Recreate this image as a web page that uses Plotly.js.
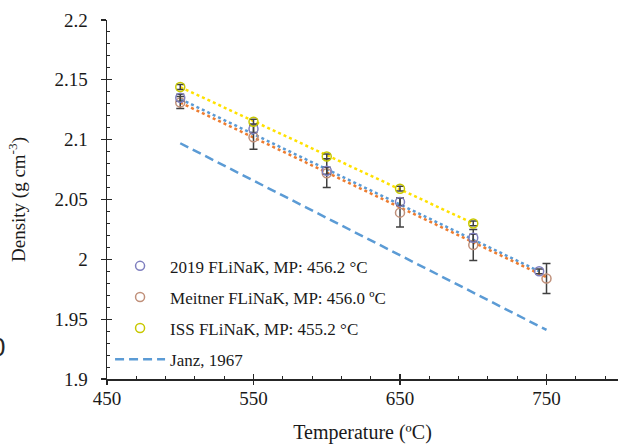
<!DOCTYPE html>
<html>
<head>
<meta charset="utf-8">
<script src="https://cdn.plot.ly/plotly-3.0.1.min.js"></script>
<style>html,body{margin:0;padding:0;background:#fff;}#chart{width:618px;height:444px;}</style>
</head>
<body>
<div id="chart"></div>
<script>
// Data
const temps2019 = [500, 550, 600, 650, 700, 745];
const dens2019 = [2.135, 2.109, 2.074, 2.048, 2.018, 1.990];
const err2019 = [0.003, 0.003, 0.003, 0.003, 0.003, 0.002];

const tempsMeitner = [500, 550, 600, 650, 700, 750];
const densMeitner = [2.131, 2.102, 2.072, 2.039, 2.012, 1.984];
const errMeitner = [0.005, 0.010, 0.012, 0.012, 0.013, 0.0125];

const tempsISS = [500, 550, 600, 650, 700];
const densISS = [2.144, 2.115, 2.086, 2.059, 2.030];
const errISS = [0.002, 0.002, 0.002, 0.002, 0.002];

// Trend lines (end points)
const trend2019T = [500, 745];
const trend2019D = [2.134, 1.990];
const trendMeitnerT = [500, 750];
const trendMeitnerD = [2.131, 1.985];
const trendISST = [500, 700];
const trendISSD = [2.144, 2.030];

// Janz, 1967
const janzT = [500, 750];
const janzD = [2.097, 1.941];

// Tick labels
const xTicks = [450, 550, 650, 750];
const xTickText = ['450', '550', '650', '750'];
const yTicks = [1.9, 1.95, 2, 2.05, 2.1, 2.15, 2.2];
const yTickText = ['1.9', '1.95', '2', '2.05', '2.1', '2.15', '2.2'];

const names = ["2019 FLiNaK, MP: 456.2 \u00B0C", "Meitner FLiNaK, MP: 456.0 \u00BAC", "ISS FLiNaK, MP: 455.2 \u00B0C", "Janz, 1967"];

const errStyle = (arr) => ({type: 'data', array: arr, visible: true, color: '#404040', thickness: 1.5, width: 4});

const traces = [
  {x: trend2019T, y: trend2019D, mode: 'lines', line: {color: '#5B9BD5', width: 2.5, dash: 'dot'}, showlegend: false, hoverinfo: 'skip'},
  {x: trendMeitnerT, y: trendMeitnerD, mode: 'lines', line: {color: '#ED7D31', width: 2.5, dash: 'dot'}, showlegend: false, hoverinfo: 'skip'},
  {x: trendISST, y: trendISSD, mode: 'lines', line: {color: '#FFE100', width: 2.5, dash: 'dot'}, showlegend: false, hoverinfo: 'skip'},
  {x: janzT, y: janzD, mode: 'lines', name: names[3], legendgroup: 'd', legendrank: 4, line: {color: '#5B9BD5', width: 2.5, dash: '9px,5px'}},
  {x: tempsMeitner, y: densMeitner, mode: 'markers', name: names[1], legendgroup: 'b', legendrank: 2, error_y: errStyle(errMeitner),
   marker: {symbol: 'circle-open', size: 9, color: '#C0907A', line: {width: 1.5}}},
  {x: temps2019, y: dens2019, mode: 'markers', name: names[0], legendgroup: 'a', legendrank: 1, error_y: errStyle(err2019),
   marker: {symbol: 'circle-open', size: 9, color: '#7F7FBF', line: {width: 1.5}}},
  {x: tempsISS, y: densISS, mode: 'markers', name: names[2], legendgroup: 'c', legendrank: 3, error_y: errStyle(errISS),
   marker: {symbol: 'circle-open', size: 9, color: '#C8C800', line: {width: 1.5}}},
  {x: [450], y: [1.9], xaxis: 'x2', yaxis: 'y2', mode: 'markers', marker: {opacity: 0}, showlegend: false, hoverinfo: 'skip'}
];

const fam = '"Liberation Serif", "Times New Roman", serif';
const txt = '#1a1a1a';
const xr = [450, 798.8];
const yr = [1.9, 2.2];
const tc = '#262626';

const layout = {
  width: 618, height: 444,
  margin: {l: 107, r: 0, t: 20, b: 65},
  paper_bgcolor: '#ffffff', plot_bgcolor: '#ffffff',
  font: {family: fam, color: txt},
  showlegend: true,
  legend: {x: 0.006, y: 0.364, xanchor: 'left', yanchor: 'top', traceorder: 'grouped', tracegroupgap: 6, itemwidth: 50,
           font: {family: fam, size: 17, color: txt}, bgcolor: 'rgba(0,0,0,0)'},
  xaxis: {range: xr, tickvals: xTicks, ticktext: xTickText,
          showline: true, linecolor: tc, linewidth: 1.5, ticks: 'inside', ticklen: 5, tickwidth: 1.2, tickcolor: tc,
          minor: {ticks: 'inside', ticklen: 3, tickwidth: 1, tickcolor: tc, dtick: 20, tick0: 450, showgrid: false},
          showgrid: false, zeroline: false, tickfont: {family: fam, size: 19, color: txt}, ticklabelstandoff: 2,
          title: {text: 'Temperature (\u00BAC)', font: {family: fam, size: 20, color: txt}, standoff: 18}},
  yaxis: {range: yr, tickvals: yTicks, ticktext: yTickText,
          showline: true, linecolor: tc, linewidth: 1.5, ticks: 'inside', ticklen: 5, tickwidth: 1.2, tickcolor: tc,
          minor: {ticks: 'inside', ticklen: 3, tickwidth: 1, tickcolor: tc, dtick: 0.01, tick0: 1.9, showgrid: false},
          showgrid: false, zeroline: false, tickfont: {family: fam, size: 19, color: txt}, ticklabelstandoff: 14,
          title: {text: 'Density (g cm<sup>-3</sup>)', font: {family: fam, size: 19, color: txt}, standoff: 24}},
  xaxis2: {range: xr, overlaying: 'x', anchor: 'y2', side: 'bottom', showticklabels: false, showline: false, showgrid: false, zeroline: false,
           ticks: 'outside', ticklen: 5, tickwidth: 1.2, tickcolor: tc, tickvals: xTicks},
  yaxis2: {range: yr, overlaying: 'y', anchor: 'x2', side: 'left', showticklabels: false, showline: false, showgrid: false, zeroline: false,
           ticks: 'outside', ticklen: 5, tickwidth: 1.2, tickcolor: tc, tickvals: yTicks},
  annotations: [
    {text: '0', xref: 'paper', yref: 'paper', x: -0.196, y: 0.088, xanchor: 'right', yanchor: 'middle', showarrow: false,
     font: {family: 'Liberation Sans, Arial, sans-serif', size: 26, color: '#262626'}}
  ]
};

Plotly.newPlot('chart', traces, layout, {displayModeBar: false, staticPlot: true});
</script>
</body>
</html>
